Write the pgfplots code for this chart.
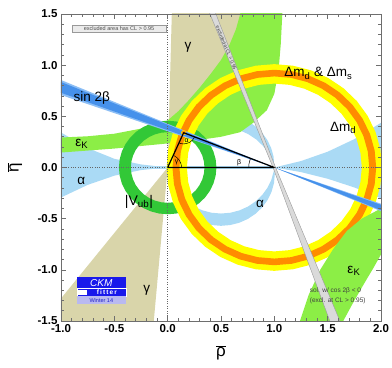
\documentclass[border=0pt]{standalone}
\usepackage{fontspec}
\setmainfont{Liberation Sans}
\usepackage{pgfplots}
\pgfplotsset{compat=1.18}
\definecolor{khaki}{RGB}{217,213,170}
\definecolor{alphab}{RGB}{170,218,245}
\definecolor{epsk}{RGB}{140,238,70}
\definecolor{vub}{RGB}{50,200,55}
\definecolor{ylw}{RGB}{255,255,0}
\definecolor{orng}{RGB}{255,140,0}
\definecolor{sbl}{RGB}{140,190,245}
\definecolor{sbd}{RGB}{70,145,235}
\definecolor{exgray}{RGB}{218,218,218}
\definecolor{frame}{RGB}{110,110,110}
\definecolor{ckmblue}{RGB}{25,25,235}
\begin{document}
\begin{tikzpicture}
\begin{axis}[name=ax, scale only axis, width=320pt, height=307pt,
  xmin=-1, xmax=2, ymin=-1.5, ymax=1.5,
  xtick={-1,-0.5,0,0.5,1,1.5,2}, xticklabels={-1.0,-0.5,0.0,0.5,1.0,1.5,2.0},
  ytick={-1.5,-1,-0.5,0,0.5,1,1.5}, yticklabels={-1.5,-1.0,-0.5,0.0,0.5,1.0,1.5},
  minor tick num=4, tick align=inside, xtick pos=both, ytick pos=both,
  major tick length=5pt, minor tick length=3pt,
  axis line style={frame, line width=0.8pt},
  tick style={frame, line width=0.6pt},
  tick label style={font=\fontsize{11.5}{12}\selectfont\bfseries},
  xlabel={\fontsize{17}{18}\selectfont$\overline{\mbox{ρ}}$},
  ylabel={\fontsize{17}{18}\selectfont$\overline{\mbox{η}}$},
  xlabel style={at={(axis description cs:0.5,-0.104)}, anchor=center},
  ylabel style={at={(axis description cs:-0.144,0.5)}, anchor=center},
  axis on top, clip=true, no markers]

% gamma
\addplot[fill=khaki, draw=none] coordinates {(0,0) (0.04,1.55) (0.78,1.55)};
\addplot[fill=khaki, draw=none] coordinates {(0,0) (-1.05,-1.344) (-1.05,-1.6) (-0.1387,-1.6)};

% alpha
\addplot[fill=alphab, draw=none] coordinates {(0,0) (-0.25,0.03) (-0.5,0.085) (-0.75,0.19) (-1,0.342) (-1.05,0.375) (-1.05,-0.32) (-1,-0.293) (-0.75,-0.17) (-0.5,-0.08) (-0.25,-0.025)};
\addplot[fill=alphab, draw=none] coordinates {(-0.5,0.018) (1,0.018) (1,-0.018) (-0.5,-0.018)};
\addplot[fill=alphab, draw=none] coordinates {(1,0) (1.25,0.063) (1.5,0.154) (1.75,0.277) (2.0,0.437) (2.05,0.47) (2.05,-0.33) (2.0,-0.302) (1.75,-0.195) (1.5,-0.110) (1.25,-0.045)};
\addplot[fill=alphab, draw=none] coordinates {(1,0) (0.9928,0.1069) (0.9702,0.1911) (0.9334,0.2702) (0.8833,0.3417) (0.8217,0.4033) (0.7502,0.4534) (0.6711,0.4902) (0.5869,0.5128) (0.5,0.5204) (0.4131,0.5128) (0.3289,0.4902) (0.2498,0.4534) (0.1783,0.4033) (0.1167,0.3417) (0.0666,0.2702) (0.0298,0.1911) (0.0072,0.1069) (0,0)
 (0.0168,0.0559) (0.0547,0.1371) (0.1061,0.2105) (0.1695,0.2739) (0.2429,0.3253) (0.3241,0.3632) (0.4107,0.3864) (0.5,0.3942) (0.5893,0.3864) (0.6759,0.3632) (0.7571,0.3253) (0.8305,0.2739) (0.8939,0.2105) (0.9453,0.1371) (0.9832,0.0559)};
\addplot[fill=alphab, draw=none] coordinates {(0,0) (-0.0043,-0.0657) (0.0034,-0.1533) (0.0261,-0.2382) (0.0633,-0.3179) (0.1137,-0.3899) (0.1758,-0.452) (0.2478,-0.5024) (0.3275,-0.5396) (0.4124,-0.5623) (0.5,-0.57) (0.5876,-0.5623) (0.6725,-0.5396) (0.7522,-0.5024) (0.8242,-0.452) (0.8863,-0.3899) (0.9367,-0.3179) (0.9739,-0.2382) (0.9966,-0.1533) (1.0043,-0.0657) (1,0)
 (0.9952,-0.0345) (0.9725,-0.1192) (0.9354,-0.1986) (0.8852,-0.2704) (0.8232,-0.3324) (0.7514,-0.3826) (0.672,-0.4197) (0.5873,-0.4424) (0.5,-0.45) (0.4127,-0.4424) (0.328,-0.4197) (0.2486,-0.3826) (0.1768,-0.3324) (0.1148,-0.2704) (0.0646,-0.1986) (0.0275,-0.1192) (0.0048,-0.0345)};

% epsilon_K upper
\addplot[fill=epsk, draw=none] coordinates {(-1.05,0.29) (-1,0.293) (-0.75,0.305) (-0.5,0.33) (-0.25,0.38) (0,0.46) (0.1,0.55) (0.2,0.66) (0.3,0.78) (0.4,0.91) (0.5,1.05) (0.58,1.2) (0.64,1.35) (0.68,1.5) (0.69,1.55) (1.08,1.55) (1.075,1.5) (1.06,1.2) (1.04,0.95) (1.0,0.72) (0.93,0.56) (0.806,0.44) (0.68,0.345) (0.5,0.30) (0.3,0.27) (0,0.235) (-0.5,0.185) (-1,0.146) (-1.05,0.142)};

% |Vub|
\addplot[fill=vub, draw=none] coordinates {(0.457,0) (0.4501,0.0794) (0.4294,0.1563) (0.3958,0.2285) (0.3501,0.2938) (0.2938,0.3501) (0.2285,0.3958) (0.1563,0.4294) (0.0794,0.4501) (0,0.457) (-0.0794,0.4501) (-0.1563,0.4294) (-0.2285,0.3958) (-0.2938,0.3501) (-0.3501,0.2938) (-0.3958,0.2285) (-0.4294,0.1563) (-0.4501,0.0794) (-0.457,0) (-0.4501,-0.0794) (-0.4294,-0.1563) (-0.3958,-0.2285) (-0.3501,-0.2938) (-0.2938,-0.3501) (-0.2285,-0.3958) (-0.1563,-0.4294) (-0.0794,-0.4501) (0,-0.457) (0.0794,-0.4501) (0.1563,-0.4294) (0.2285,-0.3958) (0.2938,-0.3501) (0.3501,-0.2938) (0.3958,-0.2285) (0.4294,-0.1563) (0.4501,-0.0794) (0.457,0)
 (0.345,0) (0.3398,-0.0599) (0.3242,-0.1180) (0.2988,-0.1725) (0.2643,-0.2218) (0.2218,-0.2643) (0.1725,-0.2988) (0.1180,-0.3242) (0.0599,-0.3398) (0,-0.345) (-0.0599,-0.3398) (-0.1180,-0.3242) (-0.1725,-0.2988) (-0.2218,-0.2643) (-0.2643,-0.2218) (-0.2988,-0.1725) (-0.3242,-0.1180) (-0.3398,-0.0599) (-0.345,0) (-0.3398,0.0599) (-0.3242,0.1180) (-0.2988,0.1725) (-0.2643,0.2218) (-0.2218,0.2643) (-0.1725,0.2988) (-0.1180,0.3242) (-0.0599,0.3398) (0,0.345) (0.0599,0.3398) (0.1180,0.3242) (0.1725,0.2988) (0.2218,0.2643) (0.2643,0.2218) (0.2988,0.1725) (0.3242,0.1180) (0.3398,0.0599) (0.345,0)};

% Delta m_d (yellow)
\addplot[fill=ylw, draw=none] coordinates {(2.01,0) (1.9946,0.1753) (1.9491,0.3454) (1.8747,0.505) (1.7737,0.6492) (1.6492,0.7737) (1.505,0.8747) (1.3454,0.9491) (1.1753,0.9946) (1,1.01) (0.8247,0.9946) (0.6546,0.9491) (0.495,0.8747) (0.3508,0.7737) (0.2263,0.6492) (0.1253,0.505) (0.0509,0.3454) (0.0054,0.1753) (-0.01,0) (0.0054,-0.1753) (0.0509,-0.3454) (0.1253,-0.505) (0.2263,-0.6492) (0.3508,-0.7737) (0.495,-0.8747) (0.6546,-0.9491) (0.8247,-0.9946) (1,-1.01) (1.1753,-0.9946) (1.3454,-0.9491) (1.505,-0.8747) (1.6492,-0.7737) (1.7737,-0.6492) (1.8747,-0.505) (1.9491,-0.3454) (1.9946,-0.1753) (2.01,0)
 (1.82,0) (1.8075,-0.1424) (1.7706,-0.2804) (1.7101,-0.41) (1.6281,-0.5271) (1.5271,-0.6281) (1.41,-0.7101) (1.2804,-0.7706) (1.1424,-0.8075) (1,-0.82) (0.8576,-0.8075) (0.7196,-0.7706) (0.59,-0.7101) (0.4729,-0.6281) (0.3719,-0.5271) (0.2899,-0.41) (0.2294,-0.2804) (0.1925,-0.1424) (0.18,0) (0.1925,0.1424) (0.2294,0.2804) (0.2899,0.41) (0.3719,0.5271) (0.4729,0.6281) (0.59,0.7101) (0.7196,0.7706) (0.8576,0.8075) (1,0.82) (1.1424,0.8075) (1.2804,0.7706) (1.41,0.7101) (1.5271,0.6281) (1.6281,0.5271) (1.7101,0.41) (1.7706,0.2804) (1.8075,0.1424) (1.82,0)};

% Delta m_d & Delta m_s (orange)
\addplot[fill=orng, draw=none] coordinates {(1.955,0) (1.9405,0.1658) (1.8974,0.3266) (1.827,0.4775) (1.7315,0.6139) (1.6139,0.7315) (1.4775,0.827) (1.3266,0.8974) (1.1658,0.9405) (1,0.955) (0.8342,0.9405) (0.6734,0.8974) (0.5225,0.827) (0.3861,0.7315) (0.2685,0.6139) (0.173,0.4775) (0.1026,0.3266) (0.0595,0.1658) (0.045,0) (0.0595,-0.1658) (0.1026,-0.3266) (0.173,-0.4775) (0.2685,-0.6139) (0.3861,-0.7315) (0.5225,-0.827) (0.6734,-0.8974) (0.8342,-0.9405) (1,-0.955) (1.1658,-0.9405) (1.3266,-0.8974) (1.4775,-0.827) (1.6139,-0.7315) (1.7315,-0.6139) (1.827,-0.4775) (1.8974,-0.3266) (1.9405,-0.1658) (1.955,0)
 (1.89,0) (1.8765,-0.1545) (1.8363,-0.3044) (1.7707,-0.445) (1.6817,-0.5721) (1.5721,-0.6817) (1.445,-0.7707) (1.3044,-0.8363) (1.1545,-0.8765) (1,-0.89) (0.8455,-0.8765) (0.6956,-0.8363) (0.555,-0.7707) (0.4279,-0.6817) (0.3183,-0.5721) (0.2293,-0.445) (0.1637,-0.3044) (0.1235,-0.1545) (0.11,0) (0.1235,0.1545) (0.1637,0.3044) (0.2293,0.445) (0.3183,0.5721) (0.4279,0.6817) (0.555,0.7707) (0.6956,0.8363) (0.8455,0.8765) (1,0.89) (1.1545,0.8765) (1.3044,0.8363) (1.445,0.7707) (1.5721,0.6817) (1.6817,0.5721) (1.7707,0.445) (1.8363,0.3044) (1.8765,0.1545) (1.89,0)};

% epsilon_K lower
\addplot[fill=epsk, draw=none] coordinates {(1.22,-1.55) (1.24,-1.5) (1.32,-1.25) (1.43,-1.0) (1.55,-0.8) (1.68,-0.62) (1.82,-0.5) (2.0,-0.4) (2.05,-0.38) (2.05,-0.8) (2.0,-0.85) (1.93,-0.98) (1.85,-1.12) (1.75,-1.3) (1.646,-1.5) (1.62,-1.55)};

% sin 2beta
\addplot[fill=sbl, draw=none] coordinates {(-1.05,0.8764) (2.05,-0.4489) (2.05,-0.3717) (-1.05,0.7257)};
\addplot[fill=sbd, draw=none] coordinates {(-1.05,0.8559) (2.05,-0.4384) (2.05,-0.3833) (-1.05,0.7483)};

% excluded band
\addplot[fill=exgray, draw=black!40, line width=0.4pt] coordinates {(0.377,1.55) (0.434,1.55) (1.012,0) (1.635,-1.55) (1.538,-1.55) (0.988,0) (0.377,1.55)};

% zero lines
\addplot[color=black!60, line width=0.8pt, dash pattern=on 0.8pt off 1.6pt] coordinates {(0,-1.5) (0,1.5)};
\addplot[color=black!60, line width=0.8pt, dash pattern=on 0.8pt off 1.6pt] coordinates {(-1,0) (2,0)};

% triangle
\addplot[fill=orng, draw=ylw!70!orng, line width=0.5pt] coordinates {(0.172,0.34) (0.1656,0.3556) (0.15,0.362) (0.1344,0.3556) (0.128,0.34) (0.1344,0.3244) (0.15,0.318) (0.1656,0.3244) (0.172,0.34)};
\addplot[black, line width=1.2pt, line join=round] coordinates {(0,0) (1,0) (0.15,0.34) (0,0)};
\addplot[black, line width=0.5pt, smooth] coordinates {(0.13,0) (0.1256,0.0336) (0.1126,0.065) (0.0919,0.0919) (0.065,0.1126) (0.0529,0.1188)};
\addplot[black, line width=0.5pt, smooth] coordinates {(0.76,0) (0.7623,0.0334) (0.7682,0.0621) (0.7772,0.0891)};
\addplot[black, line width=0.5pt, smooth] coordinates {(0.1056,0.2393) (0.15,0.23) (0.205,0.2447) (0.2343,0.2693) (0.2521,0.2992)};

% labels
\node[font=\fontsize{7}{8}\selectfont] at (axis cs:0.178,0.265) {α};
\node[font=\fontsize{7}{8}\selectfont] at (axis cs:0.084,0.049) {γ};
\node[font=\fontsize{7}{8}\selectfont] at (axis cs:0.671,0.049) {β};
\node[font=\fontsize{13.5}{15}\selectfont] at (axis cs:-0.712,0.68) {sin 2β};
\node[font=\fontsize{13.5}{15}\selectfont] at (axis cs:-0.806,0.228) {ε\textsubscript{K}};
\node[font=\fontsize{13.5}{15}\selectfont] at (axis cs:-0.81,-0.13) {α};
\node[font=\fontsize{13.5}{15}\selectfont] at (axis cs:0.19,1.17) {γ};
\node[font=\fontsize{13.5}{15}\selectfont] at (axis cs:-0.197,-1.204) {γ};
\node[font=\fontsize{14}{15}\selectfont] at (axis cs:-0.269,-0.335) {|V\textsubscript{ub}|};
\node[font=\fontsize{13.5}{15}\selectfont] at (axis cs:0.865,-0.357) {α};
\node[font=\fontsize{13.5}{15}\selectfont] at (axis cs:1.412,0.92) {Δm\textsubscript{d} \& Δm\textsubscript{s}};
\node[font=\fontsize{13.5}{15}\selectfont] at (axis cs:1.646,0.383) {Δm\textsubscript{d}};
\node[font=\fontsize{13.5}{15}\selectfont] at (axis cs:1.746,-1.009) {ε\textsubscript{K}};
\node[font=\fontsize{6.5}{7}\selectfont, text=black!75, anchor=west] at (axis cs:1.30,-1.205) {sol. w/ cos 2β < 0};
\node[font=\fontsize{6.5}{7}\selectfont, text=black!75, anchor=west] at (axis cs:1.30,-1.30) {(excl. at CL > 0.95)};
\node[font=\fontsize{4.8}{5}\selectfont, text=black!75, rotate=-67.7] at (axis cs:0.55,1.17) {excluded at CL > 0.95};
\node[font=\fontsize{5.5}{6}\selectfont, text=black!70, fill=black!8, draw=black!40, line width=0.4pt, minimum width=94pt, minimum height=7.5pt, inner sep=0pt] at (axis cs:-0.456,1.357) {excluded area has CL > 0.95};
% logo
\node[fill=ckmblue, minimum width=49pt, minimum height=10.8pt, inner sep=0pt, text=white, font=\fontsize{10}{10}\selectfont\itshape] at (axis cs:-0.622,-1.127) {CKM};
\node[fill=ckmblue, draw=white, line width=0.6pt, minimum width=49pt, minimum height=8pt, inner sep=0pt] at (axis cs:-0.622,-1.219) {};
\node[fill=white, minimum width=10pt, minimum height=5pt, inner sep=0pt] at (axis cs:-0.80,-1.219) {};
\node[text=white, font=\fontsize{6.5}{7}\selectfont\bfseries, inner sep=0pt] at (axis cs:-0.57,-1.219) {f\,i\,t\,t\,e\,r};
\node[fill={rgb,255:red,185;green,185;blue,240}, minimum width=49pt, minimum height=7.9pt, inner sep=0pt, text={rgb,255:red,30;green,30;blue,200}, font=\fontsize{5.5}{6}\selectfont] at (axis cs:-0.622,-1.297) {Winter 14};
\end{axis}
\pgfresetboundingbox
\path ([shift={(-61pt,-47pt)}]ax.south west) rectangle ([shift={(11pt,14pt)}]ax.north east);
\end{tikzpicture}
\end{document}
